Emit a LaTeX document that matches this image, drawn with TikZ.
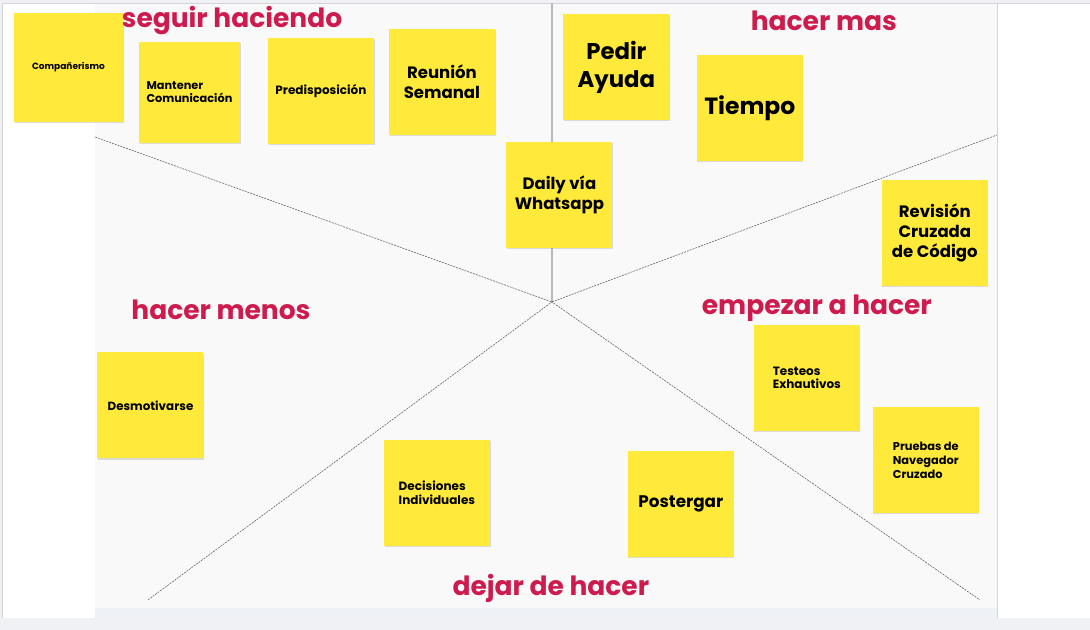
\documentclass[tikz,border=0pt]{standalone}
\usepackage{fontspec}
\setmainfont{Poppins}
\usetikzlibrary{shadows}
\definecolor{postit}{HTML}{FFEA3B}
\definecolor{rotulo}{HTML}{CE1B4E}
\definecolor{tablero}{HTML}{F9F9FA}
\definecolor{fondo}{HTML}{EFF1F4}
\definecolor{banda}{HTML}{EEF2F6}
\definecolor{borde}{HTML}{D4D4D6}

\begin{document}
\begin{tikzpicture}[x=1pt,y=-1pt,
  nota/.style={fill=postit,minimum width=106pt,minimum height=106pt,inner sep=0pt,align=center,
    drop shadow={opacity=0.25,shadow xshift=0.6pt,shadow yshift=-1.2pt}},
  rot/.style={text=rotulo,anchor=base,font=\fontsize{26.5}{27}\selectfont\bfseries},
  eje/.style={black!60,line width=0.6pt,dash pattern=on 2pt off 1pt}]
% fondo y tablero
\fill[fondo] (0,0) rectangle (1090,630);
\fill[white] (2,3) rectangle (1090,618);
\fill[tablero] (95,3) rectangle (998,608);
\fill[banda] (95,608) rectangle (998,618);
\draw[borde] (2,618)--(2,3)--(1090,3);
\draw[borde,line width=1pt] (998,3)--(998,618);
\useasboundingbox (0,0) rectangle (1090,630);

% ejes
\coordinate (c) at (552,302);
\coordinate (arr) at (552,3);
\coordinate (ai) at (95,137);
\coordinate (ad) at (997,135);
\coordinate (bi) at (148,600);
\coordinate (bd) at (980,600);
\draw[black!28,line width=1.5pt] (c)--(arr);
\draw[eje] (ai)--(c)--(ad);
\draw[eje] (bi)--(c)--(bd);

% rotulos
\node[rot] (seg) at (232,28) {seguir haciendo};
\node[rot] (mas) at (824,31) {hacer mas};
\node[rot] (men) at (221,320) {hacer menos};
\node[rot] (emp) at (817,315) {empezar a hacer};
\node[rot] (dej) at (551,596) {dejar de hacer};

% notas
\node[nota,minimum width=109pt,minimum height=109pt,font=\fontsize{9}{10}\selectfont\bfseries] (comp) at (68.5,67.5) {Compañerismo};
\node[nota,minimum width=101pt,minimum height=101pt,align=left,font=\fontsize{11.3}{13}\selectfont\bfseries] (mant) at (189.5,92.5) {Mantener\\Comunicación};
\node[nota,font=\fontsize{12}{13}\selectfont\bfseries] (pred) at (321,91) {Predisposición};
\node[nota,font=\fontsize{16.5}{20}\selectfont\bfseries] (reun) at (442,82) {Reunión\\Semanal};
\node[nota,font=\fontsize{22.8}{28}\selectfont\bfseries] (ped) at (616.5,67) {Pedir\\Ayuda};
\node[nota,font=\fontsize{23.5}{26}\selectfont\bfseries] (tie) at (750,108) {Tiempo};
\node[nota,font=\fontsize{16.5}{20}\selectfont\bfseries] (dai) at (559.5,195) {Daily vía\\Whatsapp};
\node[nota,font=\fontsize{16.5}{20}\selectfont\bfseries] (rev) at (935,233) {Revisión\\Cruzada\\de Código};
\node[nota,font=\fontsize{11.9}{13}\selectfont\bfseries] (des) at (150.5,405.5) {Desmotivarse};
\node[nota,align=left,font=\fontsize{12}{14}\selectfont\bfseries] (dec) at (437,493) {Decisiones\\Individuales};
\node[nota,font=\fontsize{16.8}{18}\selectfont\bfseries] (pos) at (681,504) {Postergar};
\node[nota,align=left,font=\fontsize{12}{13}\selectfont\bfseries] (tes) at (807,378) {Testeos\\Exhautivos};
\node[nota,align=left,font=\fontsize{11.4}{14}\selectfont\bfseries] (pru) at (926,460) {Pruebas de\\Navegador\\Cruzado};
\end{tikzpicture}
\end{document}
